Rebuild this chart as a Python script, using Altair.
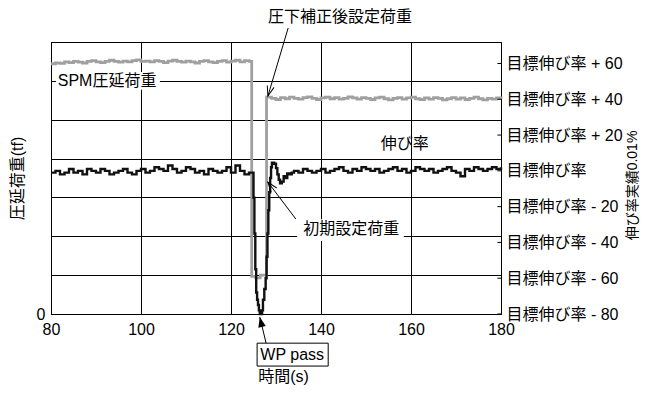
import altair as alt
import pandas as pd

FONT = "Liberation Sans, Arial, Noto Sans CJK JP, sans-serif"

# ---------------- data ----------------
x_ticks = [80, 100, 120, 140, 160, 180]
left_ticks = [0, 1, 2, 3, 4, 5, 6, 7]
right_ticks = [-80, -60, -40, -20, 0, 20, 40, 60]

# SPM rolling load (left axis units, grid divisions)
gray_time = list(range(80, 125)) + [124.6, 125.5, 126.5, 127.9] + list(range(129, 181))
gray_load = [
    6.44, 6.46, 6.45, 6.49, 6.47, 6.50, 6.48, 6.46, 6.50, 6.52,
    6.49, 6.47, 6.50, 6.53, 6.50, 6.48, 6.51, 6.49, 6.52, 6.54,
    6.50, 6.51, 6.49, 6.52, 6.50, 6.47, 6.51, 6.53, 6.50, 6.48,
    6.51, 6.49, 6.46, 6.50, 6.52, 6.49, 6.47, 6.50, 6.52, 6.48,
    6.51, 6.53, 6.49, 6.52, 6.50,
    0.97, 0.93, 1.00, 5.58,
    5.55, 5.52, 5.57, 5.54, 5.58, 5.55, 5.53, 5.57, 5.59, 5.55,
    5.52, 5.56, 5.58, 5.54, 5.57, 5.53, 5.55, 5.59, 5.56, 5.53,
    5.57, 5.55, 5.52, 5.56, 5.58, 5.54, 5.51, 5.55, 5.57, 5.53,
    5.56, 5.58, 5.54, 5.52, 5.56, 5.53, 5.57, 5.55, 5.51, 5.54,
    5.57, 5.53, 5.56, 5.52, 5.55, 5.58, 5.54, 5.51, 5.55, 5.53,
    5.56, 5.54,
]

# elongation (right axis, 0.01% relative to target)
dip_time = [124.8, 125.0, 125.2, 125.4, 125.6, 125.8, 126.0, 126.2, 126.4, 126.9,
            127.1, 127.4, 127.7, 127.9, 128.1, 128.3, 128.5, 128.7, 128.9, 129.1,
            129.6, 130.0, 130.3, 130.6, 130.9, 131.3, 131.7, 132.1, 132.5, 133.0, 133.5]
dip_elong = [-1, -15, -35, -55, -68, -72, -75, -78, -80, -78,
             -72, -66, -60, -48, -35, -22, -12, -4, 2, 4.5,
             4, 1.5, -2, -5, -7, -6, -3, -4, -1.5, -2, -1]
pre_elong = [-1, 0, -2, -1, 1, -1, 0, -2, 1, 0,
             -1, 1, 0, -2, -1, 0, 1, -1, -2, 0,
             1, -1, 0, 2, 1, 0, 3, 1, -1, 0,
             2, 1, -1, 0, -2, 1, 0, -1, 0, 2,
             -1, 3, 0, -2, -1]
post_elong = [0, -1, 1, 0, -1, 0, 1, -1, 0, 1,
              2, 0, -1, 1, 0, 2, 1, 0, 1, -1,
              0, 1, 2, 0, 1, -1, 0, 2, 1, 0,
              1, -1, 0, 1, 2, 0, -1, -3, 1, 0,
              2, 1, 0, 1, 2, 1, 2]
black_time = list(range(80, 125)) + dip_time + list(range(134, 181))
black_elong = pre_elong + dip_elong + post_elong

# annotations (data coordinates)
label_text = ["圧下補正後設定荷重", "伸び率", "初期設定荷重", "WP pass"]
label_t = [144.2, 158.6, 146.7, 133.6]
label_v = [86.0, 15.0, -32.5, -102.7]

arrow_t1 = [132.7, 134.4, 127.8]
arrow_v1 = [79.8, -26.9, -96.3]
arrow_t2 = [128.2, 128.2, 126.4]
arrow_v2 = [41.8, -6.3, -81.7]
arrow_angle = [196, 323, 347]

gray_df = pd.DataFrame({"t": gray_time, "v": gray_load})
black_df = pd.DataFrame({"t": black_time, "v": black_elong})
lab_df = pd.DataFrame({"text": label_text, "t": label_t, "v": label_v})
arr_df = pd.DataFrame({"t": arrow_t1, "v": arrow_v1, "t2": arrow_t2, "v2": arrow_v2, "ang": arrow_angle})
tick_df = pd.DataFrame({"v": right_ticks})

# ---------------- scales / axes ----------------
common = dict(labelFont=FONT, titleFont=FONT, labelFontSize=16, titleFontSize=16,
              labelColor="black", titleColor="black", gridColor="black", gridOpacity=1,
              gridWidth=1, domainColor="black", domainWidth=1, titleFontWeight="normal",
              labelFlush=False, labelOverlap=False)

xscale = alt.Scale(domain=[80, 180], nice=False, zero=False)
xaxis = alt.Axis(values=x_ticks, title="時間(s)", grid=True, ticks=False, labelPadding=7,
                 titleX=232, titleY=62, titleBaseline="middle", titleAlign="center", **common)
lscale = alt.Scale(domain=[0, 7], nice=False, zero=False)
laxis = alt.Axis(values=left_ticks, labelExpr="datum.value == 0 ? '0' : ''", title="圧延荷重(tf)",
                 grid=True, ticks=False, labelPadding=6, orient="left",
                 titleX=-34, titleY=136, titleAngle=270, titleBaseline="middle", titleAlign="center",
                 **common)
rscale = alt.Scale(domain=[-80, 72], nice=False, zero=False)
raxis_common = dict(common)
raxis_common["titleFontSize"] = 14
raxis = alt.Axis(values=right_ticks, orient="right", grid=False, ticks=False, labelPadding=5,
                 labelExpr="datum.value > 0 ? '目標伸び率 + ' + datum.value : (datum.value < 0 ? '目標伸び率 - ' + abs(datum.value) : '目標伸び率')",
                 title="伸び率実績0.01%", titleX=131, titleY=143, titleAngle=270,
                 titleBaseline="middle", titleAlign="center", **raxis_common)


def X(f):
    return alt.X(f, type="quantitative", scale=xscale, axis=xaxis)


def YL(f):
    return alt.Y(f, type="quantitative", scale=lscale, axis=laxis)


def YR(f):
    return alt.Y(f, type="quantitative", scale=rscale, axis=raxis)


# ---------------- left layer ----------------
gray_line = alt.Chart(gray_df).mark_line(color="#a0a0a0", strokeWidth=2.8, interpolate="step-after").encode(
    x=X("t"), y=YL("v"))
spm_bg = alt.Chart(pd.DataFrame({"t": [81.1], "t2": [104.2], "v": [5.77], "v2": [6.23]})).mark_rect(
    color="white").encode(x=X("t"), x2="t2", y=YL("v"), y2="v2")
spm_txt = alt.Chart(pd.DataFrame({"text": ["SPM圧延荷重"], "t": [81.5], "v": [6.0]})).mark_text(
    align="left", baseline="middle", fontSize=16, font=FONT, color="black").encode(
    x=X("t"), y=YL("v"), text="text")
left_layer = alt.layer(gray_line, spm_bg, spm_txt)

# ---------------- right layer ----------------
black_line = alt.Chart(black_df).mark_line(color="#111111", strokeWidth=2.4, interpolate="step-after").encode(
    x=X("t"), y=YR("v"))
init_bg = alt.Chart(pd.DataFrame({"t": [134.7], "t2": [158.4], "v": [-27.0], "v2": [-39.2]})).mark_rect(
    color="white").encode(x=X("t"), x2="t2", y=YR("v"), y2="v2")
wp_box = alt.Chart(pd.DataFrame({"t": [125.8], "t2": [141.6], "v": [-96.3], "v2": [-109.1]})).mark_rect(
    fill="white", stroke="black", strokeWidth=1).encode(x=X("t"), x2="t2", y=YR("v"), y2="v2")
labels = alt.Chart(lab_df).mark_text(align="center", baseline="middle", fontSize=16, font=FONT,
                                     color="black").encode(x=X("t"), y=YR("v"), text="text")
shafts = alt.Chart(arr_df).mark_rule(color="black", strokeWidth=1).encode(
    x=X("t"), x2="t2", y=YR("v"), y2="v2")
heads_open = alt.Chart(arr_df.iloc[:2]).mark_point(
    shape="M-0.35,1L0,0L0.35,1", size=400, filled=False, stroke="black", strokeWidth=1, opacity=1).encode(
    x=X("t2"), y=YR("v2"), angle=alt.Angle("ang:Q", scale=None))
heads_fill = alt.Chart(arr_df.iloc[2:]).mark_point(
    shape="M0,0L0.38,1L-0.38,1Z", size=400, filled=True, color="black", opacity=1).encode(
    x=X("t2"), y=YR("v2"), angle=alt.Angle("ang:Q", scale=None))
rticks = alt.Chart(tick_df).mark_rule(color="black", strokeWidth=1).encode(
    x=alt.datum(179.2, scale=xscale, axis=xaxis), x2=alt.datum(180), y=YR("v"))
right_layer = alt.layer(black_line, init_bg, wp_box, labels, shafts, heads_open, heads_fill, rticks)

chart = alt.layer(left_layer, right_layer).resolve_scale(y="independent").properties(
    width=450, height=272,
    background="white",
    autosize=alt.AutoSizeParams(type="none"),
    padding={"left": 43, "top": 34, "right": 140, "bottom": 72},
).configure_view(stroke="black", strokeWidth=1).configure_axis(**common)

chart.save("out.html", embed_options={"renderer": "svg", "actions": False})
